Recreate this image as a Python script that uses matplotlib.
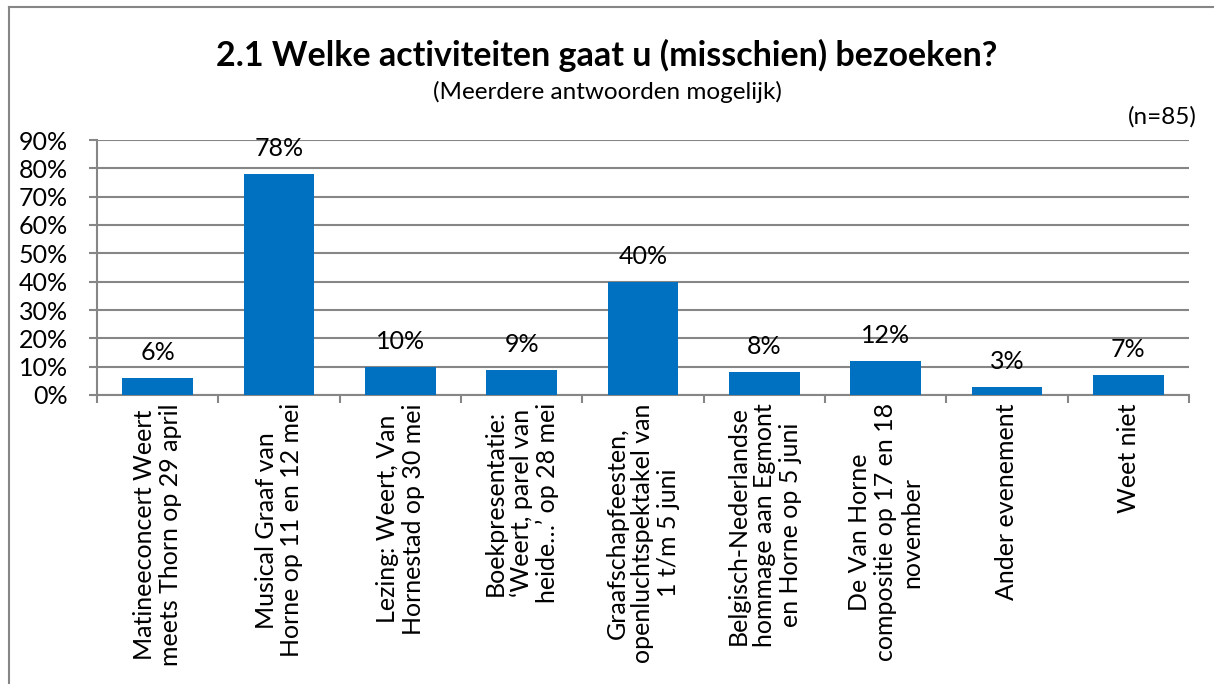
import matplotlib.pyplot as plt
import numpy as np
from matplotlib.lines import Line2D
from matplotlib.ticker import PercentFormatter

plt.rcParams['font.family'] = ['Lato', 'DejaVu Sans']

# Data
categories = [
    'Matineeconcert Weert\nmeets Thorn op 29 april',
    'Musical Graaf van\nHorne op 11 en 12 mei',
    'Lezing: Weert, Van\nHornestad op 30 mei',
    'Boekpresentatie:\n\u2018Weert, parel van\nheide\u2026\u2019 op 28 mei',
    'Graafschapfeesten,\nopenluchtspektakel van\n1 t/m 5 juni',
    'Belgisch-Nederlandse\nhommage aan Egmont\nen Horne op 5 juni',
    'De Van Horne\ncompositie op 17 en 18\nnovember',
    'Ander evenement',
    'Weet niet',
]
values = [6, 78, 10, 9, 40, 8, 12, 3, 7]
yticks = [0, 10, 20, 30, 40, 50, 60, 70, 80, 90]

fig = plt.figure(figsize=(12.14, 6.84), dpi=100)
ax = fig.add_axes([97/1214, 1 - 395/684, (1189 - 97)/1214, (395 - 140)/684])

# Outer chart border: only top and left edges are visible in the crop
top_y = 1 - 7/684
left_x = 9/1214
fig.lines.append(Line2D([left_x, 1.0], [top_y, top_y], transform=fig.transFigure,
                        color='#868686', linewidth=1.5))
fig.lines.append(Line2D([left_x, left_x], [0.0, top_y], transform=fig.transFigure,
                        color='#868686', linewidth=1.5))

x = np.arange(len(values))
bars = ax.bar(x, values, width=0.58, color='#0070C0', zorder=3)

# Value labels
for xi, v in zip(x, values):
    ax.annotate(f'{v}%', (xi, v), xytext=(0, 10), textcoords='offset points',
                ha='center', va='bottom', fontsize=18)

ax.set_xlim(-0.5, len(values) - 0.5)
ax.set_ylim(0, 90)
ax.set_yticks(yticks)
ax.yaxis.set_major_formatter(PercentFormatter(decimals=0))
ax.grid(axis='y', color='#868686', linewidth=1.5, zorder=0)

ax.set_xticks(x)
ax.set_xticklabels(categories, rotation=90, fontsize=18)
for lbl in ax.get_xticklabels():
    lbl.set_multialignment('center')
    lbl.set_linespacing(1.15)
ax.set_xticks(np.arange(-0.5, len(values)), minor=True)
ax.tick_params(axis='x', which='major', length=0, pad=6)
ax.tick_params(axis='x', which='minor', length=6, width=1.5, color='#868686', direction='out')
ax.tick_params(axis='y', labelsize=18, length=6, width=1.5, color='#868686', pad=15)

for side in ['top', 'right']:
    ax.spines[side].set_visible(False)
for side in ['left', 'bottom']:
    ax.spines[side].set_color('#868686')
    ax.spines[side].set_linewidth(1.5)

fig.text(607/1214, 1 - 55/684, '2.1 Welke activiteiten gaat u (misschien) bezoeken?',
         ha='center', va='center', fontsize=24.5, fontweight='bold')
fig.text(607/1214, 1 - 92/684, '(Meerdere antwoorden mogelijk)',
         ha='center', va='center', fontsize=17.5)
fig.text(1197/1214, 1 - 117/684, '(n=85)', ha='right', va='center', fontsize=17.5)

fig.savefig('out.png', dpi=100)
